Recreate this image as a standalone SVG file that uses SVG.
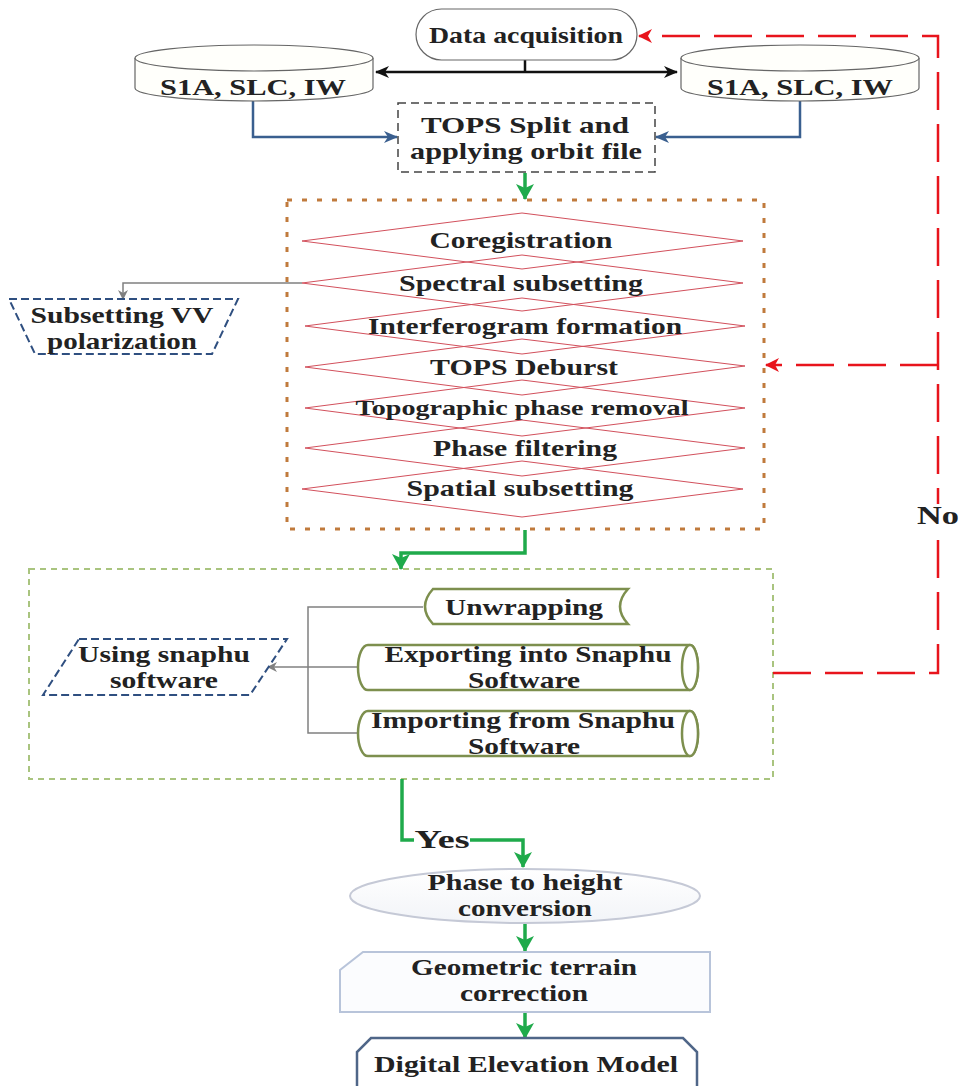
<svg xmlns="http://www.w3.org/2000/svg" width="961" height="1086" viewBox="0 0 961 1086">
<defs>
<style>
text{font-family:"Liberation Serif","Times New Roman",serif;font-weight:bold;fill:#222;text-anchor:middle;font-size:23px}
.sm{font-size:21px}
.diam{fill:none;stroke:#d2505c;stroke-width:1}
.blueDash{fill:#fff;stroke:#2f4f80;stroke-width:2;stroke-dasharray:8 4}
.olive{fill:#fff;stroke:#7d8f4e;stroke-width:2.5}
.green{fill:none;stroke:#1faa4b;stroke-width:3.5}
.red{fill:none;stroke:#e8141c;stroke-width:2.5;stroke-dasharray:38 14}
.gray{fill:none;stroke:#808080;stroke-width:1.5}
.blue{fill:none;stroke:#3a5f8f;stroke-width:2.5}
</style>
<marker id="aBlack" markerUnits="userSpaceOnUse" markerWidth="14" markerHeight="12" refX="13" refY="6" orient="auto"><path d="M0,0 L14,6 L0,12 L4,6 Z" fill="#111"/></marker>
<marker id="aBlue" markerUnits="userSpaceOnUse" markerWidth="14" markerHeight="12" refX="13" refY="6" orient="auto"><path d="M0,0 L14,6 L0,12 L4,6 Z" fill="#3a5f8f"/></marker>
<marker id="aGreen" markerUnits="userSpaceOnUse" markerWidth="16" markerHeight="18" refX="15" refY="9" orient="auto"><path d="M0,0 L16,9 L0,18 L4,9 Z" fill="#1faa4b"/></marker>
<marker id="aRed" markerUnits="userSpaceOnUse" markerWidth="14" markerHeight="14" refX="13" refY="7" orient="auto"><path d="M0,0 L14,7 L0,14 L4,7 Z" fill="#e8141c"/></marker>
<marker id="aGray" markerUnits="userSpaceOnUse" markerWidth="10" markerHeight="10" refX="9" refY="5" orient="auto"><path d="M0,0 L10,5 L0,10 L3,5 Z" fill="#808080"/></marker>
<linearGradient id="ellG" x1="0" y1="0" x2="0" y2="1"><stop offset="0" stop-color="#ffffff"/><stop offset="1" stop-color="#f2f4f8"/></linearGradient>
</defs>
<rect width="961" height="1086" fill="#fff"/>

<g id="processing-group">
<rect x="287" y="200" width="477" height="329" fill="none" stroke="#c07a3c" stroke-width="3" stroke-dasharray="5 10"/>
</g>
<g id="unwrapping-group">
<rect x="29" y="569" width="744" height="210" fill="none" stroke="#a9c47f" stroke-width="2" stroke-dasharray="6 5"/>
</g>

<g id="connectors">
<path d="M525,60 V72" stroke="#111" stroke-width="2.5" fill="none"/>
<path d="M525,72 H376" stroke="#111" stroke-width="2.5" fill="none" marker-end="url(#aBlack)"/>
<path d="M525,72 H677" stroke="#111" stroke-width="2.5" fill="none" marker-end="url(#aBlack)"/>
<path class="blue" d="M253,101 V137 H397" marker-end="url(#aBlue)"/>
<path class="blue" d="M800,101 V137 H656" marker-end="url(#aBlue)"/>
<path class="green" d="M525,173 V199" marker-end="url(#aGreen)"/>
<path class="gray" d="M302,283 H123 V299" marker-end="url(#aGray)"/>
<path class="green" d="M525,530 V553 H401 V569" marker-end="url(#aGreen)"/>
<path class="gray" d="M423,607 H308 V733 H359"/>
<path class="gray" d="M359,667 H268" marker-end="url(#aGray)"/>
<path class="green" d="M402,779 V840 H414"/>
<path class="green" d="M470,840 H523 V867" marker-end="url(#aGreen)"/>
<path class="green" d="M525,923 V951" marker-end="url(#aGreen)"/>
<path class="green" d="M525,1012 V1038" marker-end="url(#aGreen)"/>
<path class="red" d="M773,673 H938 V36 H639" marker-end="url(#aRed)"/>
<path class="red" d="M938,365 H766" marker-end="url(#aRed)"/>
<rect x="912" y="504" width="48" height="26" fill="#fff"/>
<text x="938" y="524" style="font-size:25px" textLength="42" lengthAdjust="spacingAndGlyphs">No</text>
<rect x="414" y="828" width="56" height="24" fill="#fff"/>
<text x="442" y="848" style="font-size:25px" textLength="55" lengthAdjust="spacingAndGlyphs">Yes</text>
</g>

<g id="data-acquisition">
<rect x="416" y="9" width="221" height="51" rx="25.5" fill="#fff" stroke="#666" stroke-width="1.2"/>
<text x="526" y="43" textLength="194" lengthAdjust="spacingAndGlyphs">Data acquisition</text>
</g>

<g id="s1a-left">
<path d="M135,58 V88 A119,13 0 0 0 373,88 V58" fill="#fffffb" stroke="#666" stroke-width="1.2"/>
<ellipse cx="254" cy="58" rx="119" ry="13" fill="#fffffb" stroke="#666" stroke-width="1.2"/>
<text x="253" y="95" textLength="186" lengthAdjust="spacingAndGlyphs">S1A, SLC, IW</text>
</g>
<g id="s1a-right">
<path d="M681,58 V88 A119,13 0 0 0 919,88 V58" fill="#fffffb" stroke="#666" stroke-width="1.2"/>
<ellipse cx="800" cy="58" rx="119" ry="13" fill="#fffffb" stroke="#666" stroke-width="1.2"/>
<text x="800" y="95" textLength="186" lengthAdjust="spacingAndGlyphs">S1A, SLC, IW</text>
</g>

<g id="tops-split">
<rect x="398" y="103" width="257" height="69" fill="#fff" stroke="#444" stroke-width="1.5" stroke-dasharray="8 5"/>
<text x="525" y="133" textLength="208" lengthAdjust="spacingAndGlyphs">TOPS Split and</text>
<text x="526" y="159" textLength="232" lengthAdjust="spacingAndGlyphs">applying orbit file</text>
</g>

<g id="coregistration">
<polygon class="diam" points="302,241 522,213 743,241 522,269"/>
<text x="521" y="248" textLength="183" lengthAdjust="spacingAndGlyphs">Coregistration</text>
</g>
<g id="spectral-subsetting">
<polygon class="diam" points="302,283 522,255 743,283 522,311"/>
<text x="521" y="291" textLength="244" lengthAdjust="spacingAndGlyphs">Spectral subsetting</text>
</g>
<g id="interferogram">
<polygon class="diam" points="305,326 522,298 745,326 522,354"/>
<text x="525" y="334" textLength="314" lengthAdjust="spacingAndGlyphs">Interferogram formation</text>
</g>
<g id="tops-deburst">
<polygon class="diam" points="305,367 522,339 745,366 522,395"/>
<text x="524" y="375" textLength="188" lengthAdjust="spacingAndGlyphs">TOPS Deburst</text>
</g>
<g id="topographic">
<polygon class="diam" points="305,408 522,380 745,408 522,436"/>
<text x="522" y="415" class="sm" textLength="333" lengthAdjust="spacingAndGlyphs">Topographic phase removal</text>
</g>
<g id="phase-filtering">
<polygon class="diam" points="305,448 522,420 745,448 522,476"/>
<text x="525" y="456" textLength="184" lengthAdjust="spacingAndGlyphs">Phase filtering</text>
</g>
<g id="spatial-subsetting">
<polygon class="diam" points="302,489 522,461 743,489 522,517"/>
<text x="520" y="496" textLength="227" lengthAdjust="spacingAndGlyphs">Spatial subsetting</text>
</g>

<g id="subsetting-vv">
<polygon class="blueDash" points="9,299 238,299 212,354 35,354"/>
<text x="122" y="323" textLength="183" lengthAdjust="spacingAndGlyphs">Subsetting VV</text>
<text x="122" y="349" textLength="150" lengthAdjust="spacingAndGlyphs">polarization</text>
</g>

<g id="unwrapping">
<path class="olive" d="M433,589 H628 Q612,606.5 628,624 H433 Q417,606.5 433,589 Z"/>
<text x="524" y="615" textLength="158" lengthAdjust="spacingAndGlyphs">Unwrapping</text>
</g>
<g id="exporting">
<path class="olive" d="M368,645 H690 A8,22.5 0 0 1 690,690 H368 A10,22.5 0 0 1 368,645 Z"/>
<ellipse class="olive" cx="690" cy="667.5" rx="8" ry="22.5"/>
<text x="528" y="662" textLength="287" lengthAdjust="spacingAndGlyphs">Exporting into Snaphu</text>
<text x="524" y="688" textLength="112" lengthAdjust="spacingAndGlyphs">Software</text>
</g>
<g id="importing">
<path class="olive" d="M368,711 H690 A8,22.5 0 0 1 690,756 H368 A10,22.5 0 0 1 368,711 Z"/>
<ellipse class="olive" cx="690" cy="733.5" rx="8" ry="22.5"/>
<text x="523" y="728" textLength="304" lengthAdjust="spacingAndGlyphs">Importing from Snaphu</text>
<text x="524" y="754" textLength="112" lengthAdjust="spacingAndGlyphs">Software</text>
</g>

<g id="using-snaphu">
<polygon class="blueDash" points="79,639 287,639 250,695 43,695"/>
<text x="164" y="662" textLength="172" lengthAdjust="spacingAndGlyphs">Using snaphu</text>
<text x="164" y="688" textLength="108" lengthAdjust="spacingAndGlyphs">software</text>
</g>

<g id="phase-to-height">
<ellipse cx="525" cy="896" rx="175" ry="27" fill="url(#ellG)" stroke="#c5c9d6" stroke-width="2"/>
<text x="525" y="890" textLength="195" lengthAdjust="spacingAndGlyphs">Phase to height</text>
<text x="525" y="916" textLength="134" lengthAdjust="spacingAndGlyphs">conversion</text>
</g>

<g id="geometric-terrain">
<path d="M363,952 H710 V1012 H340 V970 Z" fill="#fbfcfe" stroke="#b8c4da" stroke-width="2"/>
<text x="524" y="975" textLength="226" lengthAdjust="spacingAndGlyphs">Geometric terrain</text>
<text x="524" y="1001" textLength="128" lengthAdjust="spacingAndGlyphs">correction</text>
</g>

<g id="dem">
<path d="M357,1092 V1052 L371,1038 H683 L697,1052 V1092" fill="#fff" stroke="#4f6688" stroke-width="2.5"/>
<text x="526" y="1072" textLength="304" lengthAdjust="spacingAndGlyphs">Digital Elevation Model</text>
</g>
</svg>
